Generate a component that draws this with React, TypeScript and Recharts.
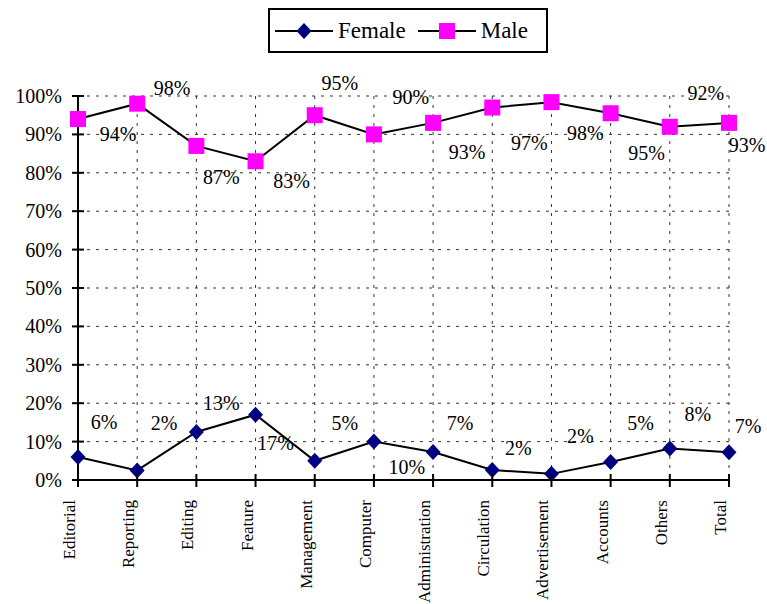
import { LineChart, Line, XAxis, YAxis, CartesianGrid, Legend, LabelList } from 'recharts'

const categories = [
  'Editorial', 'Reporting', 'Editing', 'Feature', 'Management', 'Computer',
  'Administration', 'Circulation', 'Advertisement', 'Accounts', 'Others', 'Total',
]
const female = [6, 2.5, 12.5, 17, 5, 10, 7.3, 2.6, 1.6, 4.7, 8.2, 7.2]
const male = [94, 98, 87, 83, 95, 90, 93, 97, 98.4, 95.5, 92, 93]
const femaleLabels = ['6%', '2%', '13%', '17%', '5%', '10%', '7%', '2%', '2%', '5%', '8%', '7%']
const maleLabels = ['94%', '98%', '87%', '83%', '95%', '90%', '93%', '97%', '98%', '95%', '92%', '93%']
const yTicks = [0, 10, 20, 30, 40, 50, 60, 70, 80, 90, 100]

// label nudges (dx, dy) from each point, as in the original
const MALE_NUDGE = [[40, 15], [35, -16], [25, 31], [36, 20], [25, -32], [37, -37], [34, 29], [37, 35], [34, 31], [36, 40], [36, -34], [18, 22]]
const FEMALE_NUDGE = [[26, -35], [27, -47], [25, -29], [20, 28], [30, -38], [33, 25], [27, -29], [26, -22], [29, -38], [30, -39], [28, -35], [19, -26]]

const FONT = '"Liberation Serif", "Times New Roman", serif'
const NAVY = '#000080'
const MAGENTA = '#FF00FF'

const rows = categories.map((c, i) => ({
  name: c,
  female: female[i],
  male: male[i],
  femaleLabel: femaleLabels[i],
  maleLabel: maleLabels[i],
}))

function YTick({ x, y, payload }: any) {
  return (
    <g>
      <line x1={x - 6} x2={x + 6} y1={y} y2={y} stroke="#000" strokeWidth={2} />
      <text x={x - 16} y={y} textAnchor="end" dominantBaseline="central" fontSize={20} fontFamily={FONT} fill="#000">
        {payload.value}%
      </text>
    </g>
  )
}

function XTick({ x, y, payload }: any) {
  const ty = y + 20
  return (
    <g>
      <line x1={x} x2={x} y1={y - 6} y2={y + 7} stroke="#000" strokeWidth={2} />
      <text x={x} y={ty} dy={-3} transform={`rotate(-90, ${x}, ${ty})`} textAnchor="end" fontSize={17} fontFamily={FONT} fill="#000">
        {payload.value}
      </text>
    </g>
  )
}

const diamond = (props: any) => {
  const { cx, cy, index } = props
  return <polygon key={index} points={`${cx},${cy - 8} ${cx + 7.5},${cy} ${cx},${cy + 8} ${cx - 7.5},${cy}`} fill={NAVY} />
}

const square = (props: any) => {
  const { cx, cy, index } = props
  return <rect key={index} x={cx - 8} y={cy - 8} width={16} height={16} fill={MAGENTA} />
}

const nudgedLabel = (nudge: number[][]) => (props: any) => {
  const { x, y, index, value } = props
  const [dx, dy] = nudge[index] ?? [0, 0]
  return (
    <text x={x + dx} y={y + dy} textAnchor="middle" dominantBaseline="central" fontSize={20} fontFamily={FONT} fill="#000">
      {value}
    </text>
  )
}

function LegendBox() {
  const item = (label: string, marker: 'diamond' | 'square') => (
    <div style={{ display: 'flex', alignItems: 'center' }}>
      <svg width={58} height={20}>
        <line x1={0} x2={58} y1={10} y2={10} stroke="#000" strokeWidth={2} />
        {marker === 'diamond'
          ? <polygon points="29,2 36.5,10 29,18 21.5,10" fill={NAVY} />
          : <rect x={21} y={2} width={16} height={16} fill={MAGENTA} />}
      </svg>
      <span style={{ marginLeft: 5, fontSize: 23, fontFamily: FONT, color: '#000' }}>{label}</span>
    </div>
  )
  return (
    <div style={{
      width: 271, height: 41, border: '2px solid #000', background: '#fff',
      display: 'flex', alignItems: 'center', paddingLeft: 5, boxSizing: 'content-box', gap: 12,
    }}>
      {item('Female', 'diamond')}
      {item('Male', 'square')}
    </div>
  )
}

export default function App() {
  return (
    <div style={{ position: 'absolute', left: 0, top: 0, background: '#fff' }}>
      <LineChart width={767} height={604} data={rows} margin={{ top: 96, right: 38, left: 0, bottom: 0 }}>
        <CartesianGrid strokeDasharray="3 6" stroke="#333" strokeWidth={1} />
        <XAxis
          dataKey="name"
          interval={0}
          height={124}
          tickSize={0}
          tickMargin={0}
          tickLine={false}
          axisLine={{ stroke: '#000', strokeWidth: 2 }}
          tick={<XTick />}
        />
        <YAxis
          domain={[0, 100]}
          ticks={yTicks}
          width={78}
          tickSize={0}
          tickMargin={0}
          tickLine={false}
          axisLine={{ stroke: '#000', strokeWidth: 2 }}
          tick={<YTick />}
        />
        <Legend
          layout="vertical"
          verticalAlign="middle"
          align="center"
          wrapperStyle={{ top: 8, left: 268, width: 'auto', height: 'auto' }}
          content={<LegendBox />}
        />
        <Line dataKey="female" stroke="#000" strokeWidth={2} dot={diamond} activeDot={false} isAnimationActive={false}>
          <LabelList dataKey="femaleLabel" content={nudgedLabel(FEMALE_NUDGE)} />
        </Line>
        <Line dataKey="male" stroke="#000" strokeWidth={2} dot={square} activeDot={false} isAnimationActive={false}>
          <LabelList dataKey="maleLabel" content={nudgedLabel(MALE_NUDGE)} />
        </Line>
      </LineChart>
    </div>
  )
}
